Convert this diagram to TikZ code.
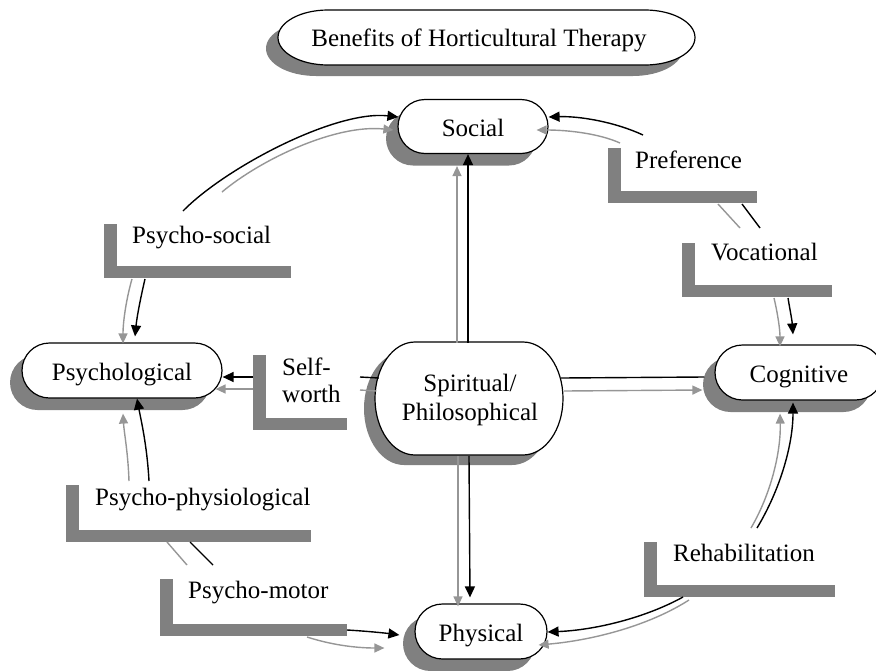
\documentclass[tikz,border=0pt]{standalone}
\usepackage{fontspec}
\setmainfont{Liberation Serif}
\usetikzlibrary{shapes.misc,shadows,arrows.meta}
\definecolor{shgray}{HTML}{808080}
\definecolor{lgray}{HTML}{969696}
\newcommand\Lbar[4]{\fill[barfill] (#1,#2) rectangle ({#1+13},{#3+12});
  \fill[barfill] (#1,#3) rectangle (#4,{#3+12});}
\tikzset{
  txt/.style={font=\fontsize{25}{29}\selectfont},
  stad/.style={rounded rectangle, draw=black, line width=1.2pt, fill=white,
    minimum height=55pt, inner sep=0pt, txt, text height=20pt, text depth=0pt,
    drop shadow={shadow xshift=-12pt, shadow yshift=-12pt, fill=shgray, opacity=1}},
  lbl/.style={anchor=base west, inner sep=0pt, txt},
  barfill/.style={fill=shgray},
  blk/.style={draw=black, line width=1.4pt},
  gry/.style={draw=lgray, line width=1.4pt},
  blka/.style={blk, -{Triangle[length=11pt,width=10pt]}},
  grya/.style={gry, -{Triangle[length=10pt,width=9pt]}},
  outline/.style={draw=black, line width=1.2pt, fill=white},
  shadowfill/.style={fill=shgray},
}
\begin{document}
\begin{tikzpicture}[x=1pt,y=-1pt]
\path[use as bounding box] (0,0) rectangle (876,670);

% title
\path[shadowfill, shift={(-12,11)}] (328,10) -- (645,10) arc[start angle=90,end angle=-90,x radius=50pt,y radius=27.5pt] -- (328,65) arc[start angle=270,end angle=90,x radius=50pt,y radius=27.5pt] -- cycle;
\path[outline] (328,10) -- (645,10) arc[start angle=90,end angle=-90,x radius=50pt,y radius=27.5pt] -- (328,65) arc[start angle=270,end angle=90,x radius=50pt,y radius=27.5pt] -- cycle;
\node[txt, inner sep=0pt, anchor=base] (title) at (479,46) {Benefits of Horticultural Therapy};

% centre
\path[shadowfill, shift={(-11,10)}] (415,342) -- (523,342) arc[start angle=90,end angle=-90,x radius=40pt,y radius=56.5pt] -- (415,455) arc[start angle=270,end angle=90,x radius=40pt,y radius=56.5pt] -- cycle;
\path[outline] (415,342) -- (523,342) arc[start angle=90,end angle=-90,x radius=40pt,y radius=56.5pt] -- (415,455) arc[start angle=270,end angle=90,x radius=40pt,y radius=56.5pt] -- cycle;
\node[txt, align=center, minimum width=188pt, minimum height=113pt, inner sep=0pt] (spirit) at (470,399.5) {Spiritual/\\Philosophical};

% main nodes
\node[stad, minimum width=200pt] (psych) at (122,370.5) {Psychological};
\node[stad, minimum width=150pt, minimum height=54pt] (social) at (473,126.5) {Social};
\node[stad, minimum width=168pt] (cog) at (799,372.5) {Cognitive};
\node[stad, minimum width=132pt] (phys) at (481,631.5) {Physical};

% label bars and texts
\Lbar{608}{148}{191}{757}
\node[lbl] (lpref) at (635,168) {Preference};
\Lbar{682}{243}{285}{832}
\node[lbl] (lvoc) at (711,260) {Vocational};
\Lbar{104}{224}{266}{291}
\node[lbl] (lpsoc) at (132,243) {Psycho-social};
\Lbar{253}{355}{418}{347}
\node[lbl] (lself) at (282,375) {Self-};
\node[lbl] (lworth) at (282,402) {worth};
\Lbar{66}{485}{530}{311}
\node[lbl] (lpphys) at (95,505) {Psycho-physiological};
\Lbar{160}{579}{624}{347}
\node[lbl] (lpmot) at (188,598) {Psycho-motor};
\Lbar{644}{542}{585}{835}
\node[lbl] (lrehab) at (673,561) {Rehabilitation};

% free ends of connectors beside the labels
\coordinate (tlB) at (183,211);
\coordinate (tlG) at (222,192);
\coordinate (tlB2) at (145,279);
\coordinate (tlG2) at (132,279);
\coordinate (trB) at (643,135);
\coordinate (trG) at (620,143);
\coordinate (trB1) at (742,204);
\coordinate (trB1e) at (760,228);
\coordinate (trG1) at (718,204);
\coordinate (trG1e) at (740,228);
\coordinate (trB2) at (788,298);
\coordinate (trG2) at (774,298);
\coordinate (brB) at (757,528);
\coordinate (brG) at (751,528);
\coordinate (brB2) at (683,597);
\coordinate (brG2) at (689,600);
\coordinate (blB) at (149,481);
\coordinate (blG) at (129,481);
\coordinate (blB1) at (190,542);
\coordinate (blB1e) at (213,565);
\coordinate (blG1) at (167,542);
\coordinate (blG1e) at (187,565);
\coordinate (blB2) at (347,630);
\coordinate (blG2) at (307,637);
\coordinate (swBr) at (360,377);
\coordinate (swGr) at (360,390);
\coordinate (swBl) at (253,377);
\coordinate (swGl) at (253,389);

% centre spokes
\draw[blka] ([xshift=-2pt]spirit.north) -- ([xshift=-5pt]social.south);
\draw[grya] ([xshift=-13pt]spirit.north) -- ([xshift=-16pt,yshift=-12pt]social.south);
\draw[blka] ([xshift=-1pt]spirit.south) -- ([xshift=-11pt,yshift=6pt]phys.north);
\draw[grya] ([xshift=-12pt]spirit.south) -- ([xshift=-23pt,yshift=-3pt]phys.north);
\draw[blk] ([xshift=3pt,yshift=21.5pt]spirit.west) -- (swBr);
\draw[blka] (swBl) -- ([yshift=-6.5pt]psych.east);
\draw[gry] ([xshift=0.5pt,yshift=8.5pt]spirit.west) -- (swGr);
\draw[grya] (swGl) -- ([xshift=-7pt,yshift=-18.5pt]psych.east);
\draw[blk] ([xshift=-3pt,yshift=21.5pt]spirit.east) -- ([xshift=-10pt,yshift=-4.5pt]cog.west);
\draw[grya] ([yshift=8.5pt]spirit.east) -- ([xshift=-12pt,yshift=-17.5pt]cog.west);

% top-left arc (Psycho-social)
\draw[blka] (tlB) .. controls (225,168) and (335,110) .. ([xshift=1pt,yshift=9.5pt]social.west);
\draw[grya] (tlG) .. controls (260,160) and (335,124) .. ([xshift=-4pt,yshift=-3.5pt]social.west);
\draw[blka] (tlB2) .. controls (141,296) and (137,316) .. ([xshift=13pt,yshift=6pt]psych.north);
\draw[grya] (tlG2) .. controls (127,296) and (123,320) .. ([xshift=1pt,yshift=-1pt]psych.north);

% top-right arc (Preference, Vocational)
\draw[blka] (trB) .. controls (615,122) and (580,116) .. ([yshift=9.5pt]social.east);
\draw[grya] (trG) .. controls (600,134) and (570,130) .. ([xshift=-12pt,yshift=-3.5pt]social.east);
\draw[blk] (trB1) -- (trB1e);
\draw[gry] (trG1) -- (trG1e);
\draw[blka] (trB2) .. controls (790,310) and (792,320) .. ([xshift=-6pt,yshift=10pt]cog.north);
\draw[grya] (trG2) .. controls (778,315) and (780,330) .. ([xshift=-19pt,yshift=-2pt]cog.north);

% bottom-right arc (Rehabilitation)
\draw[blka] (brB) .. controls (780,490) and (793,445) .. ([xshift=-6pt,yshift=-2pt]cog.south);
\draw[grya] (brG) .. controls (772,492) and (781,450) .. ([xshift=-19pt,yshift=-13pt]cog.south);
\draw[blka] (brB2) .. controls (645,618) and (595,630) .. ([yshift=-0.5pt]phys.east);
\draw[grya] (brG2) .. controls (650,625) and (595,640) .. ([xshift=-9pt,yshift=-13.5pt]phys.east);

% bottom-left arc (Psycho-physiological, Psycho-motor)
\draw[blka] (blB) .. controls (147,445) and (141,420) .. ([xshift=15pt]psych.south);
\draw[grya] (blG) .. controls (128,452) and (124,432) .. ([xshift=1pt,yshift=-15pt]psych.south);
\draw[blk] (blB1) -- (blB1e);
\draw[gry] (blG1) -- (blG1e);
\draw[blka] (blB2) .. controls (365,631) and (385,633) .. ([xshift=-15pt,yshift=-3.5pt]phys.west);
\draw[grya] (blG2) .. controls (335,646) and (360,648) .. ([xshift=-30pt,yshift=-16.5pt]phys.west);
\end{tikzpicture}
\end{document}
